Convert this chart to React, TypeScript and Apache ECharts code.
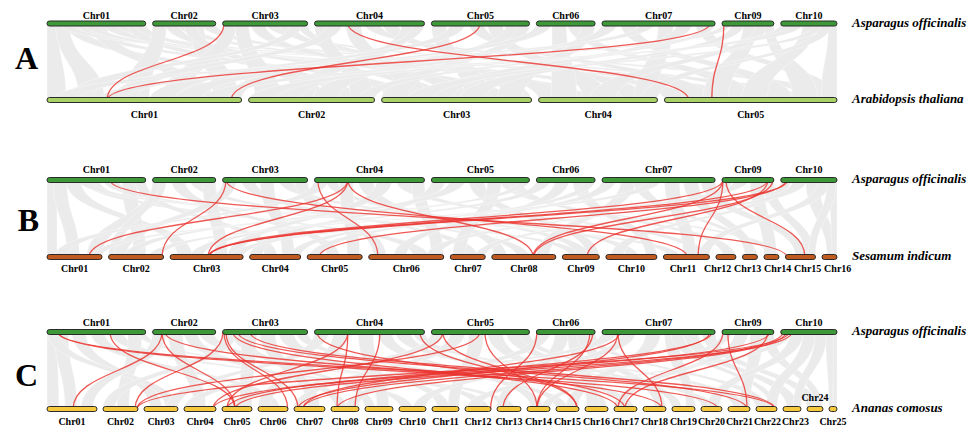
import { useEffect, useRef } from "react";
import * as echarts from "echarts";

// ---- Karyotypes (chromosome names and lengths in Mb) ----
const ASPARAGUS_CHRS = ["Chr01", "Chr02", "Chr03", "Chr04", "Chr05", "Chr06", "Chr07", "Chr09", "Chr10"];
const ASPARAGUS_LEN = [158, 101, 136, 176, 157, 94, 181, 83, 90];

const ARABIDOPSIS_CHRS = ["Chr01", "Chr02", "Chr03", "Chr04", "Chr05"];
const ARABIDOPSIS_LEN = [30.43, 19.7, 23.46, 18.59, 26.98];

const SESAMUM_CHRS = ["Chr01", "Chr02", "Chr03", "Chr04", "Chr05", "Chr06", "Chr07", "Chr08", "Chr09", "Chr10", "Chr11", "Chr12", "Chr13", "Chr14", "Chr15", "Chr16"];
const SESAMUM_LEN = [22, 22, 29.2, 20.4, 22, 30, 14, 25.6, 14.8, 20.4, 18.4, 8, 6, 6, 12, 6];

const ANANAS_CHRS = ["Chr01", "Chr02", "Chr03", "Chr04", "Chr05", "Chr06", "Chr07", "Chr08", "Chr09", "Chr10", "Chr11", "Chr12", "Chr13", "Chr14", "Chr15", "Chr16", "Chr17", "Chr18", "Chr19", "Chr20", "Chr21", "Chr22", "Chr23", "Chr24", "Chr25"];
const ANANAS_LEN = [25, 17.5, 17, 16, 15, 15, 15.5, 14, 14, 13.5, 13.5, 13, 12, 11.5, 11.5, 11.5, 11.5, 11.5, 11.5, 10.5, 11, 10.5, 9, 8, 4];

// ---- Highlighted gene pairs: [Asparagus chr, Mb, partner chr, Mb] ----
const RED_A = [
  ["Chr03", 2.1, "Chr01", 9.4],
  ["Chr04", 53.4, "Chr05", 3.8],
  ["Chr05", 77.6, "Chr01", 28.8],
  ["Chr07", 172.6, "Chr01", 9.4],
  ["Chr09", 3.0, "Chr05", 7.4],
];

const RED_B = [
  ["Chr01", 100.8, "Chr15", 0.5],
  ["Chr03", 5.3, "Chr02", 21.4],
  ["Chr03", 5.3, "Chr11", 9.5],
  ["Chr04", 53.4, "Chr01", 16.8],
  ["Chr04", 53.4, "Chr03", 15.2],
  ["Chr04", 53.4, "Chr08", 16.5],
  ["Chr04", 5.4, "Chr06", 3.7],
  ["Chr09", 1.4, "Chr03", 15.2],
  ["Chr09", 1.4, "Chr08", 16.5],
  ["Chr09", 1.4, "Chr11", 13.9],
  ["Chr09", 6.2, "Chr15", 7.8],
  ["Chr09", 73.4, "Chr09", 9.9],
  ["Chr09", 73.4, "Chr03", 15.6],
  ["Chr09", 81.4, "Chr08", 16.8],
  ["Chr10", 8.2, "Chr05", 4.8],
  ["Chr10", 11.4, "Chr03", 15.4],
];

const RED_C = [
  ["Chr01", 17.6, "Chr22", 9.5],
  ["Chr01", 17.6, "Chr20", 8.5],
  ["Chr01", 100.8, "Chr05", 6.5],
  ["Chr02", 15, "Chr01", 13],
  ["Chr02", 15, "Chr05", 6.5],
  ["Chr02", 19.8, "Chr18", 9.5],
  ["Chr03", 0.5, "Chr02", 16],
  ["Chr03", 2.1, "Chr06", 14.8],
  ["Chr03", 5.3, "Chr07", 2],
  ["Chr03", 16.5, "Chr17", 2],
  ["Chr03", 24.5, "Chr21", 9.5],
  ["Chr03", 43.7, "Chr22", 9.5],
  ["Chr04", 3.8, "Chr17", 5.5],
  ["Chr04", 53.4, "Chr05", 2.5],
  ["Chr04", 53.4, "Chr08", 3],
  ["Chr04", 104.6, "Chr08", 12],
  ["Chr04", 168.6, "Chr15", 10.5],
  ["Chr05", 18.4, "Chr04", 14.5],
  ["Chr05", 18.4, "Chr15", 10.5],
  ["Chr05", 77.6, "Chr02", 17],
  ["Chr05", 85.6, "Chr14", 5],
  ["Chr06", 0.8, "Chr12", 12.8],
  ["Chr06", 90.4, "Chr13", 3],
  ["Chr06", 85.6, "Chr14", 5],
  ["Chr07", 25.4, "Chr14", 5],
  ["Chr07", 25.4, "Chr18", 9.5],
  ["Chr07", 28.6, "Chr07", 4.5],
  ["Chr07", 172.6, "Chr07", 2],
  ["Chr07", 175.8, "Chr05", 2.5],
  ["Chr09", 1.4, "Chr17", 2],
  ["Chr09", 9.4, "Chr21", 9.5],
  ["Chr09", 73.4, "Chr17", 5.5],
  ["Chr09", 76.6, "Chr04", 14.5],
  ["Chr10", 3.4, "Chr07", 4.5],
  ["Chr10", 8.2, "Chr08", 3],
  ["Chr10", 13, "Chr02", 17],
  ["Chr10", 17.8, "Chr05", 6.5],
];

// ---- Background collinear blocks: [Asparagus chr, start, end, partner chr, start, end] (Mb) ----
const GRAY_A = [
  ["Chr01", 0, 18, "Chr01", 0, 3], ["Chr01", 14, 36, "Chr01", 5, 9], ["Chr01", 30, 55, "Chr02", 3, 7], ["Chr01", 50, 75, "Chr03", 1, 5],
  ["Chr01", 70, 95, "Chr01", 22, 26], ["Chr01", 90, 115, "Chr04", 4, 8], ["Chr01", 110, 132, "Chr05", 8, 12], ["Chr01", 128, 150, "Chr02", 13, 17],
  ["Chr01", 140, 158, "Chr03", 16, 20], ["Chr01", 20, 40, "Chr05", 18, 22], ["Chr01", 60, 80, "Chr04", 12, 15],
  ["Chr02", 0, 22, "Chr01", 12, 16], ["Chr02", 20, 42, "Chr03", 6, 10], ["Chr02", 40, 62, "Chr04", 10, 14], ["Chr02", 60, 82, "Chr01", 26, 30],
  ["Chr02", 78, 101, "Chr05", 0, 4], ["Chr02", 50, 70, "Chr02", 8, 12],
  ["Chr03", 0, 22, "Chr01", 18, 22], ["Chr03", 20, 42, "Chr02", 1, 5], ["Chr03", 45, 68, "Chr03", 10, 14], ["Chr03", 70, 92, "Chr05", 13, 17],
  ["Chr03", 90, 112, "Chr04", 0, 4], ["Chr03", 108, 128, "Chr01", 3, 7], ["Chr03", 120, 136, "Chr03", 20, 23.4],
  ["Chr04", 0, 22, "Chr02", 16, 19.7], ["Chr04", 20, 44, "Chr01", 10, 14], ["Chr04", 50, 74, "Chr03", 3, 7], ["Chr04", 80, 104, "Chr05", 22, 26],
  ["Chr04", 110, 134, "Chr04", 13, 17], ["Chr04", 140, 164, "Chr02", 6, 10], ["Chr04", 158, 176, "Chr01", 28, 30.4],
  ["Chr05", 0, 24, "Chr03", 13, 17], ["Chr05", 30, 54, "Chr01", 16, 20], ["Chr05", 60, 84, "Chr05", 3, 7], ["Chr05", 90, 114, "Chr04", 7, 11],
  ["Chr05", 120, 144, "Chr02", 10, 14], ["Chr05", 138, 157, "Chr03", 0, 4],
  ["Chr06", 0, 24, "Chr01", 20, 24], ["Chr06", 25, 48, "Chr04", 2, 6], ["Chr06", 50, 74, "Chr05", 10, 14], ["Chr06", 72, 94, "Chr03", 18, 22],
  ["Chr07", 0, 24, "Chr02", 4, 8], ["Chr07", 30, 54, "Chr05", 16, 20], ["Chr07", 60, 84, "Chr01", 1, 5], ["Chr07", 90, 114, "Chr04", 15, 18.5],
  ["Chr07", 120, 144, "Chr03", 7, 11], ["Chr07", 150, 172, "Chr05", 24, 27], ["Chr07", 165, 181, "Chr02", 17, 19.7],
  ["Chr09", 0, 16, "Chr01", 8, 12], ["Chr09", 16, 36, "Chr03", 12, 16], ["Chr09", 34, 56, "Chr05", 6, 10], ["Chr09", 55, 74, "Chr04", 8, 12],
  ["Chr09", 68, 83, "Chr05", 20, 24],
  ["Chr10", 0, 18, "Chr02", 0, 4], ["Chr10", 15, 36, "Chr01", 24, 28], ["Chr10", 35, 56, "Chr05", 12, 16], ["Chr10", 55, 72, "Chr03", 4, 8],
  ["Chr10", 76, 90, "Chr05", 24.5, 26.98], ["Chr10", 64, 82, "Chr04", 16, 18.59],
];

const GRAY_B = [
  ["Chr01", 0, 16, "Chr01", 0, 4], ["Chr01", 10, 32, "Chr01", 8, 13], ["Chr01", 30, 54, "Chr03", 3, 9], ["Chr01", 60, 84, "Chr06", 18, 24],
  ["Chr01", 90, 114, "Chr09", 3, 8], ["Chr01", 120, 144, "Chr02", 10, 15], ["Chr01", 140, 158, "Chr04", 6, 11], ["Chr01", 50, 70, "Chr11", 2, 7],
  ["Chr02", 0, 22, "Chr01", 16, 22], ["Chr02", 30, 52, "Chr05", 8, 13], ["Chr02", 60, 82, "Chr08", 10, 15], ["Chr02", 80, 101, "Chr03", 18, 23],
  ["Chr02", 0, 10, "Chr02", 0, 4],
  ["Chr03", 0, 22, "Chr02", 2, 7], ["Chr03", 30, 52, "Chr07", 6, 11], ["Chr03", 60, 82, "Chr04", 13, 18], ["Chr03", 90, 112, "Chr10", 8, 13],
  ["Chr03", 115, 136, "Chr06", 2, 7],
  ["Chr04", 0, 22, "Chr01", 3, 8], ["Chr04", 18, 36, "Chr09", 6, 11], ["Chr04", 40, 62, "Chr05", 16, 21], ["Chr04", 70, 94, "Chr08", 1, 6],
  ["Chr04", 100, 124, "Chr03", 23, 28], ["Chr04", 130, 154, "Chr11", 13, 18], ["Chr04", 155, 176, "Chr06", 25, 30],
  ["Chr05", 0, 22, "Chr04", 0, 5], ["Chr05", 30, 54, "Chr02", 6, 11], ["Chr05", 60, 84, "Chr09", 10, 14.8], ["Chr05", 90, 112, "Chr07", 1, 6],
  ["Chr05", 110, 128, "Chr14", 2, 6], ["Chr05", 124, 144, "Chr12", 3, 8], ["Chr05", 140, 157, "Chr01", 18, 22],
  ["Chr06", 0, 22, "Chr03", 8, 13], ["Chr06", 30, 52, "Chr06", 10, 15], ["Chr06", 58, 80, "Chr10", 16, 20.4], ["Chr06", 76, 94, "Chr04", 16, 20.4],
  ["Chr07", 0, 22, "Chr05", 1, 6], ["Chr07", 30, 54, "Chr08", 18, 23], ["Chr07", 50, 70, "Chr13", 3, 6], ["Chr07", 70, 94, "Chr02", 16, 21],
  ["Chr07", 100, 124, "Chr11", 8, 13], ["Chr07", 130, 154, "Chr13", 1, 5], ["Chr07", 158, 181, "Chr15", 4, 9],
  ["Chr09", 0, 16, "Chr06", 23, 28], ["Chr09", 20, 42, "Chr03", 24, 29.2], ["Chr09", 45, 66, "Chr14", 0, 5], ["Chr09", 64, 83, "Chr15", 8, 12],
  ["Chr10", 0, 16, "Chr10", 2, 7], ["Chr10", 20, 42, "Chr07", 10, 14], ["Chr10", 40, 62, "Chr16", 2, 6], ["Chr10", 60, 80, "Chr11", 14, 18.4],
  ["Chr10", 78, 90, "Chr16", 4, 6], ["Chr10", 74, 88, "Chr15", 9, 12],
];

const GRAY_C = [
  ["Chr01", 0, 16, "Chr01", 0, 6], ["Chr01", 12, 34, "Chr01", 9, 15], ["Chr01", 40, 62, "Chr03", 3, 9], ["Chr01", 70, 92, "Chr06", 5, 11],
  ["Chr01", 100, 122, "Chr10", 1, 7], ["Chr01", 130, 152, "Chr02", 7, 13], ["Chr01", 145, 158, "Chr13", 3, 9], ["Chr01", 0, 20, "Chr03", 11, 17],
  ["Chr02", 0, 22, "Chr01", 17, 23], ["Chr02", 25, 48, "Chr04", 5, 11], ["Chr02", 50, 72, "Chr08", 2, 8], ["Chr02", 75, 98, "Chr12", 6, 12],
  ["Chr03", 0, 22, "Chr02", 0, 6], ["Chr03", 15, 35, "Chr09", 0, 5], ["Chr03", 30, 54, "Chr05", 9, 15], ["Chr03", 60, 84, "Chr07", 7, 13],
  ["Chr03", 90, 114, "Chr11", 3, 9], ["Chr03", 118, 136, "Chr15", 0, 6],
  ["Chr04", 0, 22, "Chr03", 11, 17], ["Chr04", 30, 54, "Chr06", 0, 6], ["Chr04", 70, 94, "Chr09", 6, 12], ["Chr04", 100, 124, "Chr14", 2, 8],
  ["Chr04", 130, 154, "Chr17", 4, 10], ["Chr04", 158, 176, "Chr20", 1, 7],
  ["Chr05", 0, 22, "Chr04", 0, 6], ["Chr05", 30, 54, "Chr07", 0, 5], ["Chr05", 60, 84, "Chr11", 8, 13.5], ["Chr05", 90, 114, "Chr16", 5, 11],
  ["Chr05", 120, 144, "Chr19", 0, 5], ["Chr05", 140, 157, "Chr21", 3, 9],
  ["Chr06", 0, 22, "Chr08", 7, 13], ["Chr06", 30, 52, "Chr13", 0, 5], ["Chr06", 50, 70, "Chr16", 1, 7], ["Chr06", 64, 84, "Chr18", 6, 11.5],
  ["Chr06", 80, 94, "Chr22", 0, 6],
  ["Chr07", 0, 24, "Chr05", 3, 9], ["Chr07", 30, 54, "Chr10", 7, 13], ["Chr07", 70, 94, "Chr15", 5, 11], ["Chr07", 100, 122, "Chr19", 7, 11.5],
  ["Chr07", 110, 130, "Chr22", 7, 10.5], ["Chr07", 130, 154, "Chr23", 2, 8], ["Chr07", 160, 181, "Chr24", 0, 6],
  ["Chr09", 0, 16, "Chr12", 1, 7], ["Chr09", 20, 42, "Chr17", 0, 5], ["Chr09", 45, 66, "Chr21", 6, 11], ["Chr09", 64, 83, "Chr24", 4, 8],
  ["Chr10", 0, 16, "Chr14", 7, 11.5], ["Chr10", 15, 36, "Chr20", 3, 9], ["Chr10", 35, 56, "Chr22", 5, 10.5], ["Chr10", 55, 74, "Chr23", 5, 9],
  ["Chr10", 80, 90, "Chr25", 2, 4], ["Chr10", 72, 84, "Chr25", 0, 2],
];

// ---- Styling / layout constants ----
const TRACK_LEFT = 47;
const TRACK_W = 790;
const BAR_H = 5;
const LABEL_FONT = 'bold 10px "Liberation Serif", "Times New Roman", serif';
const SPECIES_FONT = 'italic bold 13px "Liberation Serif", "Times New Roman", serif';
const LETTER_FONT = 'bold 32px "Liberation Serif", "Times New Roman", serif';
const RED = "rgba(234, 52, 48, 0.82)";
const GRAY_FILL = "#ebebeb";
const GRAY_EDGE = "rgba(255,255,255,0.55)";

type Track = {
  name: string;
  chrs: string[];
  len: number[];
  gap: number;
  color: string;
  spacing: number;
  centred?: boolean;
  raised?: string[];
};

const ASPARAGUS: Track = { name: "Asparagus officinalis", chrs: ASPARAGUS_CHRS, len: ASPARAGUS_LEN, gap: 6.9, color: "#3d9837", spacing: 28 };
const ARABIDOPSIS: Track = { name: "Arabidopsis thaliana", chrs: ARABIDOPSIS_CHRS, len: ARABIDOPSIS_LEN, gap: 7, color: "#a9d266", spacing: 28 };
const SESAMUM: Track = { name: "Sesamum indicum", chrs: SESAMUM_CHRS, len: SESAMUM_LEN, gap: 6.5, color: "#c05a1f", spacing: 30, centred: true };
const ANANAS: Track = { name: "Ananas comosus", chrs: ANANAS_CHRS, len: ANANAS_LEN, gap: 6, color: "#f5c93b", spacing: 28, raised: ["Chr24"] };

const PANELS = [
  { letter: "A", lx: 26.5, ly: 57.5, topY: 23.5, botY: 100, bottom: ARABIDOPSIS, red: RED_A, gray: GRAY_A, topLab: -8, botLab: 14 },
  { letter: "B", lx: 28.5, ly: 219.5, topY: 180, botY: 257, bottom: SESAMUM, red: RED_B, gray: GRAY_B, topLab: -11, botLab: 11 },
  { letter: "C", lx: 26.5, ly: 375, topY: 332, botY: 409, bottom: ANANAS, red: RED_C, gray: GRAY_C, topLab: -10, botLab: 12 },
];

// Place chromosomes of a track on a 0..1 axis, separated by fixed pixel gaps
function layout(track: Track) {
  const total = track.len.reduce((a, b) => a + b, 0);
  const gapU = track.gap / TRACK_W;
  const scale = (1 - gapU * (track.len.length - 1)) / total;
  const starts: number[] = [];
  let x = 0;
  track.len.forEach((l) => {
    starts.push(x);
    x += l * scale + gapU;
  });
  const pos = (chr: string, mb: number) => starts[track.chrs.indexOf(chr)] + mb * scale;

  // label centres (px), pushed apart so neighbours do not collide
  const raised = new Set(track.raised || []);
  const centres = track.chrs.map((_, i) => (starts[i] + (track.len[i] * scale) / 2) * TRACK_W);
  const free = track.chrs.map((_, i) => i).filter((i) => !raised.has(track.chrs[i]));
  const fwd: Record<number, number> = {};
  let last = -Infinity;
  free.forEach((i) => {
    last = Math.max(centres[i], last + track.spacing);
    fwd[i] = last;
  });
  const placed: Record<number, number> = { ...fwd };
  if (track.centred) {
    let next = Infinity;
    [...free].reverse().forEach((i) => {
      next = Math.min(centres[i], next - track.spacing);
      placed[i] = (fwd[i] + next) / 2;
    });
  }
  const labels = track.chrs.map((_, i) => (raised.has(track.chrs[i]) ? centres[i] : placed[i]) / TRACK_W);
  return { starts, scale, pos, labels };
}

function redSeries(idx: number, rows: any[], top: any, bot: any) {
  return {
    type: "custom",
    xAxisIndex: idx,
    yAxisIndex: idx,
    z: 2,
    silent: true,
    clip: false,
    data: rows.map((r) => [top.pos(r[0], r[1]), bot.pos(r[2], r[3])]),
    renderItem: (_p: any, api: any) => {
      const a = api.coord([api.value(0), 1]);
      const b = api.coord([api.value(1), 0]);
      const my = (a[1] + b[1]) / 2;
      return {
        type: "bezierCurve",
        shape: { x1: a[0], y1: a[1], x2: b[0], y2: b[1], cpx1: a[0], cpy1: my, cpx2: b[0], cpy2: my },
        style: { stroke: RED, lineWidth: 1.3, fill: null },
      };
    },
  };
}

function graySeries(idx: number, rows: any[], top: any, bot: any) {
  return {
    type: "custom",
    xAxisIndex: idx,
    yAxisIndex: idx,
    z: 1,
    silent: true,
    clip: false,
    data: rows.map((r) => [top.pos(r[0], r[1]), top.pos(r[0], r[2]), bot.pos(r[3], r[4]), bot.pos(r[3], r[5])]),
    renderItem: (_p: any, api: any) => {
      const a0 = api.coord([api.value(0), 1]);
      const a1 = api.coord([api.value(1), 1]);
      const b0 = api.coord([api.value(2), 0]);
      const b1 = api.coord([api.value(3), 0]);
      const yt = a0[1];
      const yb = b0[1];
      const my = (yt + yb) / 2;
      const d =
        `M${a0[0]},${yt} C${a0[0]},${my} ${b0[0]},${my} ${b0[0]},${yb} ` +
        `L${b1[0]},${yb} C${b1[0]},${my} ${a1[0]},${my} ${a1[0]},${yt} Z`;
      return {
        type: "path",
        shape: { pathData: d },
        style: { fill: GRAY_FILL, stroke: GRAY_EDGE, lineWidth: 0.6 },
      };
    },
  };
}

function chromSeries(idx: number, track: Track, lay: any, level: number, labDy: number) {
  const raised = new Set(track.raised || []);
  return {
    type: "custom",
    xAxisIndex: idx,
    yAxisIndex: idx,
    z: 5,
    silent: true,
    clip: false,
    data: track.chrs.map((c, i) => [
      lay.starts[i],
      lay.starts[i] + track.len[i] * lay.scale,
      level,
      lay.labels[i],
      raised.has(c) ? -labDy : labDy,
    ]),
    renderItem: (p: any, api: any) => {
      const s = api.coord([api.value(0), api.value(2)]);
      const e = api.coord([api.value(1), api.value(2)]);
      const lx = api.coord([api.value(3), api.value(2)])[0];
      return {
        type: "group",
        children: [
          {
            type: "rect",
            shape: { x: s[0], y: s[1] - BAR_H / 2, width: e[0] - s[0], height: BAR_H, r: BAR_H / 2 },
            style: { fill: track.color, stroke: "#2a2a2a", lineWidth: 1 },
          },
          {
            type: "text",
            x: lx,
            y: s[1] + api.value(4),
            style: {
              text: track.chrs[p.dataIndex],
              font: LABEL_FONT,
              fill: "#000",
              align: "center",
              verticalAlign: "middle",
              textAlign: "center",
              textVerticalAlign: "middle",
            },
          },
        ],
      };
    },
  };
}

function buildOption() {
  const grid: any[] = [];
  const xAxis: any[] = [];
  const yAxis: any[] = [];
  const series: any[] = [];
  const graphic: any[] = [];
  const topLay = layout(ASPARAGUS);

  PANELS.forEach((pn, i) => {
    const botLay = layout(pn.bottom);
    grid.push({ left: TRACK_LEFT, width: TRACK_W, top: pn.topY, height: pn.botY - pn.topY });
    xAxis.push({ gridIndex: i, type: "value", min: 0, max: 1, show: false });
    yAxis.push({ gridIndex: i, type: "value", min: 0, max: 1, show: false });
    series.push(graySeries(i, pn.gray, topLay, botLay));
    series.push(redSeries(i, pn.red, topLay, botLay));
    series.push(chromSeries(i, ASPARAGUS, topLay, 1, pn.topLab));
    series.push(chromSeries(i, pn.bottom, botLay, 0, pn.botLab));

    const txt = (text: string, x: number, y: number, font: string, align: string) => ({
      type: "text",
      x,
      y,
      silent: true,
      style: { text, font, fill: "#000", align, verticalAlign: "middle", textAlign: align, textVerticalAlign: "middle" },
    });
    graphic.push(txt(pn.letter, pn.lx, pn.ly, LETTER_FONT, "center"));
    graphic.push(txt(ASPARAGUS.name, 852, pn.topY - 1.5, SPECIES_FONT, "left"));
    graphic.push(txt(pn.bottom.name, 852, pn.botY - 1.5, SPECIES_FONT, "left"));
  });

  return { animation: false, backgroundColor: "#fff", grid, xAxis, yAxis, series, graphic };
}

export default function App() {
  const ref = useRef<HTMLDivElement>(null);
  useEffect(() => {
    if (!ref.current) return;
    const chart = echarts.init(ref.current, null, { renderer: "svg" });
    chart.setOption(buildOption() as any);
    return () => chart.dispose();
  }, []);
  return <div ref={ref} style={{ position: "fixed", left: 0, top: 0, width: 977, height: 428, background: "#fff" }} />;
}
